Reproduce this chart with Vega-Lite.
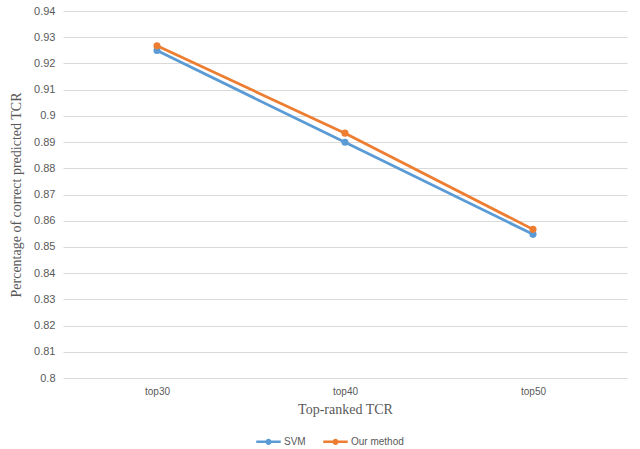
{
  "$schema": "https://vega.github.io/schema/vega-lite/v6.json",
  "width": 564,
  "height": 367,
  "autosize": {"type": "none"},
  "padding": {"left": 63, "top": 11, "right": 13, "bottom": 71},
  "background": "white",
  "config": {"view": {"stroke": null}},
  "data": {
    "values": [
      {"rank": "top30", "method": "SVM", "value": 0.9249},
      {"rank": "top40", "method": "SVM", "value": 0.8899},
      {"rank": "top50", "method": "SVM", "value": 0.8548},
      {"rank": "top30", "method": "Our method", "value": 0.9267},
      {"rank": "top40", "method": "Our method", "value": 0.8934},
      {"rank": "top50", "method": "Our method", "value": 0.8567}
    ]
  },
  "mark": {"type": "line", "point": {"size": 50, "filled": true}, "strokeWidth": 2.75},
  "encoding": {
    "x": {
      "field": "rank", "type": "ordinal",
      "scale": {"type": "point", "padding": 0.5},
      "axis": {
        "title": "Top-ranked TCR", "titleFont": "Liberation Serif", "titleFontSize": 14,
        "titleFontWeight": "normal", "titleColor": "#595959", "titlePadding": 6,
        "labelFont": "Liberation Sans", "labelFontSize": 10, "labelColor": "#595959",
        "labelAngle": 0, "labelPadding": 8, "domain": false, "ticks": false, "grid": false
      }
    },
    "y": {
      "field": "value", "type": "quantitative",
      "scale": {"domain": [0.8, 0.94], "nice": false, "zero": false},
      "axis": {
        "title": "Percentage of correct predicted TCR", "titleFont": "Liberation Serif", "titleFontSize": 14,
        "titleFontWeight": "normal", "titleColor": "#595959", "titlePadding": 10,
        "labelFont": "Liberation Sans", "labelFontSize": 11, "labelColor": "#595959",
        "labelPadding": 8, "domain": false, "ticks": false, "grid": true, "gridColor": "#D9D9D9",
        "values": [0.8, 0.81, 0.82, 0.83, 0.84, 0.85, 0.86, 0.87, 0.88, 0.89, 0.9, 0.91, 0.92, 0.93, 0.94],
        "labelExpr": "format(datum.value, '.2~f')"
      }
    },
    "color": {
      "field": "method", "type": "nominal",
      "scale": {"domain": ["SVM", "Our method"], "range": ["#5B9BD5", "#ED7D31"]},
      "legend": {
        "title": null, "orient": "none", "direction": "horizontal",
        "legendX": 192, "legendY": 417,
        "symbolType": "M-1,0L1,0M-0.15,0A0.15,0.15 0 1,0 0.15,0A0.15,0.15 0 1,0 -0.15,0",
        "symbolSize": 600, "symbolStrokeWidth": 2.5,
        "labelFont": "Liberation Sans", "labelFontSize": 10, "labelColor": "#595959",
        "columnPadding": 12, "labelOffset": 2
      }
    }
  }
}
